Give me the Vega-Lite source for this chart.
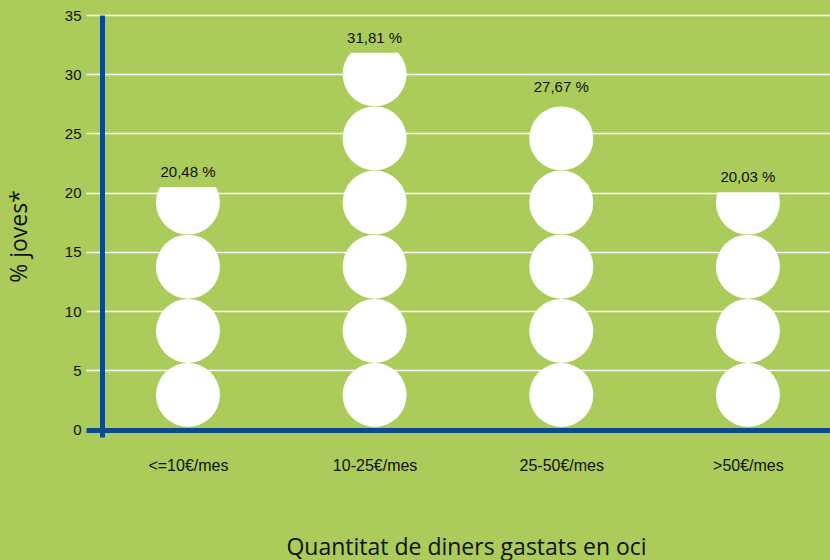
{
  "$schema": "https://vega.github.io/schema/vega-lite/v6.json",
  "autosize": "none",
  "width": 744,
  "height": 422,
  "padding": {"left": 86, "top": 15, "right": 0, "bottom": 123},
  "background": "#abcb5b",
  "config": {
    "view": {"stroke": null},
    "font": "Liberation Sans"
  },
  "datasets": {
    "circles": [
      {"cat": "<=10€/mes", "unit": 2.92},
      {"cat": "<=10€/mes", "unit": 8.33},
      {"cat": "<=10€/mes", "unit": 13.75},
      {"cat": "<=10€/mes", "unit": 19.16},
      {"cat": "10-25€/mes", "unit": 2.92},
      {"cat": "10-25€/mes", "unit": 8.33},
      {"cat": "10-25€/mes", "unit": 13.75},
      {"cat": "10-25€/mes", "unit": 19.16},
      {"cat": "10-25€/mes", "unit": 24.58},
      {"cat": "10-25€/mes", "unit": 29.99},
      {"cat": "25-50€/mes", "unit": 2.92},
      {"cat": "25-50€/mes", "unit": 8.33},
      {"cat": "25-50€/mes", "unit": 13.75},
      {"cat": "25-50€/mes", "unit": 19.16},
      {"cat": "25-50€/mes", "unit": 24.58},
      {"cat": ">50€/mes", "unit": 2.92},
      {"cat": ">50€/mes", "unit": 8.33},
      {"cat": ">50€/mes", "unit": 13.75},
      {"cat": ">50€/mes", "unit": 19.16}
    ],
    "totals": [
      {"cat": "<=10€/mes", "pct": 20.48, "label": "20,48 %"},
      {"cat": "10-25€/mes", "pct": 31.81, "label": "31,81 %"},
      {"cat": "25-50€/mes", "pct": 27.67, "label": "27,67 %"},
      {"cat": ">50€/mes", "pct": 20.03, "label": "20,03 %"}
    ]
  },
  "encoding": {
    "x": {
      "field": "cat",
      "type": "nominal",
      "sort": ["<=10€/mes", "10-25€/mes", "25-50€/mes", ">50€/mes"],
      "scale": {"type": "point", "padding": 0.493, "align": 0.554},
      "axis": {
        "title": "Quantitat de diners gastats en oci",
        "titleFont": "Open Sans",
        "titleFontSize": 23,
        "titleFontWeight": "normal",
        "titleColor": "#111111",
        "titleX": 380,
        "titleY": 110,
        "titleBaseline": "middle",
        "labelAngle": 0,
        "labelFontSize": 16,
        "labelColor": "#111111",
        "labelPadding": 20,
        "domain": false,
        "ticks": false,
        "grid": false
      }
    }
  },
  "layer": [
    {
      "data": {"name": "circles"},
      "mark": {"type": "point", "shape": "circle", "filled": true, "color": "white", "opacity": 1, "size": 4096, "strokeWidth": 0},
      "encoding": {
        "y": {
          "field": "unit",
          "type": "quantitative",
          "scale": {"domain": [-0.63, 35], "nice": false, "zero": false},
          "axis": {
            "values": [0, 5, 10, 15, 20, 25, 30, 35],
            "title": "% joves*",
            "titleFont": "Open Sans",
            "titleFontSize": 23,
            "titleFontWeight": "normal",
            "titleColor": "#111111",
            "titleX": -83,
            "titleY": 221,
            "titleBaseline": "middle",
            "titleAngle": -90,
            "labelFontSize": 15,
            "labelColor": "#111111",
            "labelPadding": 21,
            "ticks": false,
            "offset": -16,
            "domainColor": "#0c4a8c",
            "domainWidth": 5,
            "grid": true,
            "gridColor": {"condition": {"test": "datum.value === 0", "value": "#0c4a8c"}, "value": "#ffffff"},
            "gridWidth": {"condition": {"test": "datum.value === 0", "value": 5}, "value": 1.3},
            "gridOpacity": 1
          }
        }
      }
    },
    {
      "data": {"name": "totals"},
      "mark": {"type": "bar", "color": "#abcb5b", "width": 76, "y2Offset": -25, "strokeWidth": 0},
      "encoding": {
        "y": {"field": "pct", "type": "quantitative"},
        "y2": {"field": "pct"}
      }
    },
    {
      "data": {"name": "totals"},
      "mark": {"type": "text", "fontSize": 15, "color": "#111111", "baseline": "middle", "dy": -15},
      "encoding": {
        "y": {"field": "pct", "type": "quantitative"},
        "text": {"field": "label"}
      }
    }
  ]
}
